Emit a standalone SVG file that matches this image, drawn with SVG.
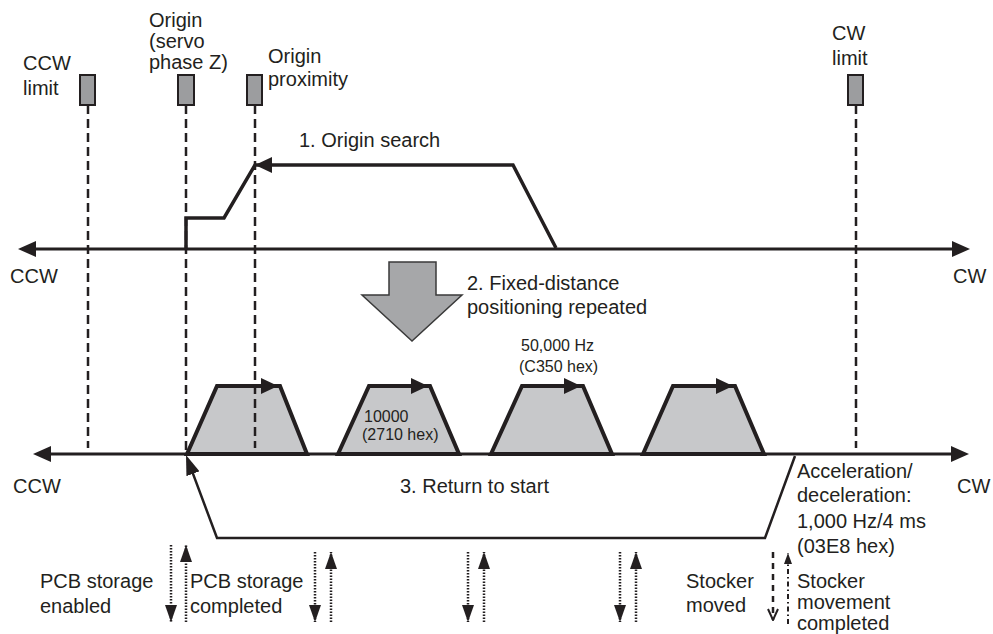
<svg xmlns="http://www.w3.org/2000/svg" width="993" height="634" viewBox="0 0 993 634">
<style>
text{font-family:"Liberation Sans",Arial,sans-serif;fill:#231f20}
.t20{font-size:20px}
.t16{font-size:16px}
.box{fill:#9c9d9f;stroke:#231f20;stroke-width:2}
.dash{stroke:#231f20;stroke-width:2.5;stroke-dasharray:9 5;fill:none}
.axis{stroke:#231f20;stroke-width:3;fill:none}
.trap{fill:#c7c8ca;stroke:#231f20;stroke-width:4;stroke-linejoin:miter}
.thick{stroke:#231f20;stroke-width:3.5;fill:none;stroke-linejoin:miter}
.ret{stroke:#231f20;stroke-width:2.5;fill:none}
.dot{stroke:#231f20;stroke-width:2.5;stroke-dasharray:1.5 1.5;fill:none}
.sdash{stroke:#231f20;stroke-width:2.5;stroke-dasharray:6 5;fill:none}
.sdd{stroke:#231f20;stroke-width:2;stroke-dasharray:5 3 1.5 3;fill:none}
</style>
<defs>
<marker id="axh" markerUnits="userSpaceOnUse" viewBox="0 0 18 16" refX="12" refY="8" markerWidth="18" markerHeight="16" orient="auto-start-reverse"><path d="M0,0 L18,8 L0,16 z" fill="#231f20"/></marker>
<marker id="th" markerUnits="userSpaceOnUse" viewBox="0 0 17 16" refX="7" refY="8" markerWidth="17" markerHeight="16" orient="auto"><path d="M0,0 L17,8 L0,16 z" fill="#231f20"/></marker>
<marker id="rh" markerUnits="userSpaceOnUse" viewBox="0 0 20 14" refX="10" refY="7" markerWidth="20" markerHeight="14" orient="auto"><path d="M0,0 L20,7 L0,14 z" fill="#231f20"/></marker>
<marker id="sa" markerUnits="userSpaceOnUse" viewBox="0 0 17 12" refX="17" refY="6" markerWidth="17" markerHeight="12" orient="auto"><path d="M0,0 L17,6 L0,12 z" fill="#231f20"/></marker>
<marker id="ch" markerUnits="userSpaceOnUse" viewBox="-1 -1 13 12" refX="11" refY="5" markerWidth="13" markerHeight="12" orient="auto"><path d="M0,0 L11,5 L0,10" fill="none" stroke="#231f20" stroke-width="2"/></marker>
<marker id="su" markerUnits="userSpaceOnUse" viewBox="0 0 11 8" refX="11" refY="4" markerWidth="11" markerHeight="8" orient="auto"><path d="M0,0 L11,4 L0,8 z" fill="#231f20"/></marker>
</defs>

<g id="ccw-limit">
<rect class="box" x="80" y="75" width="15" height="30"/>
<text class="t20" x="23" y="70">CCW</text>
<text class="t20" x="23" y="95">limit</text>
</g>
<g id="origin">
<rect class="box" x="178" y="75" width="16" height="30"/>
<text class="t20" x="149" y="27">Origin</text>
<text class="t20" x="149" y="48">(servo</text>
<text class="t20" x="149" y="69">phase Z)</text>
</g>
<g id="origin-proximity">
<rect class="box" x="247" y="75" width="15" height="30"/>
<text class="t20" x="268" y="63">Origin</text>
<text class="t20" x="268" y="86">proximity</text>
</g>
<g id="cw-limit">
<rect class="box" x="848" y="75" width="15" height="30"/>
<text class="t20" x="832" y="40">CW</text>
<text class="t20" x="832" y="65">limit</text>
</g>

<g id="top-axis">
<line class="axis" x1="24" y1="249" x2="964" y2="249" marker-start="url(#axh)" marker-end="url(#axh)"/>
<text class="t20" x="10" y="283">CCW</text>
<text class="t20" x="953" y="283">CW</text>
</g>

<g id="origin-search">
<path class="thick" d="M186,248 L186,218 L224,218 L255,165 L513,165 L556,248"/>
<path d="M255,165 L272,157 L272,173 z" fill="#231f20"/>
<text class="t20" x="299" y="147">1. Origin search</text>
</g>

<g id="fixed-distance">
<path d="M389,262 L436,262 L436,295 L462,295 L412,341 L362,295 L389,295 z" fill="#a6a7a9" stroke="#3a3a3a" stroke-width="1.5"/>
<text class="t20" x="467" y="290">2. Fixed-distance</text>
<text class="t20" x="467" y="314">positioning repeated</text>
<text class="t16" x="521" y="351">50,000 Hz</text>
<text class="t16" x="519" y="372">(C350 hex)</text>
</g>

<g id="trap1">
<polygon class="trap" points="187,454 217,386 280,386 307,454"/>
<line x1="217" y1="386" x2="268" y2="386" stroke="#231f20" stroke-width="4" marker-end="url(#th)"/>
</g>
<g id="trap2">
<polygon class="trap" points="338,454 369,386 430,386 459,454"/>
<line x1="369" y1="386" x2="418" y2="386" stroke="#231f20" stroke-width="4" marker-end="url(#th)"/>
<text class="t16" x="364" y="422">10000</text>
<text class="t16" x="362" y="440">(2710 hex)</text>
</g>
<g id="trap3">
<polygon class="trap" points="491,454 522,386 583,386 612,454"/>
<line x1="522" y1="386" x2="571" y2="386" stroke="#231f20" stroke-width="4" marker-end="url(#th)"/>
</g>
<g id="trap4">
<polygon class="trap" points="643,454 673,386 735,386 764,454"/>
<line x1="673" y1="386" x2="723" y2="386" stroke="#231f20" stroke-width="4" marker-end="url(#th)"/>
</g>

<g id="dashed-lines">
<line class="dash" x1="88" y1="105" x2="88" y2="448"/>
<line class="dash" x1="186" y1="105" x2="186" y2="454"/>
<line class="dash" x1="255" y1="105" x2="255" y2="448"/>
<line class="dash" x1="856" y1="105" x2="856" y2="448"/>
</g>

<g id="bottom-axis">
<line class="axis" x1="39" y1="454" x2="963" y2="454" marker-start="url(#axh)" marker-end="url(#axh)"/>
<text class="t20" x="13" y="493">CCW</text>
<text class="t20" x="957" y="493">CW</text>
</g>

<g id="return-to-start">
<path class="ret" d="M795,456 L765,538 L217,538 L189.5,464.4" marker-end="url(#rh)"/>
<text class="t20" x="400" y="493">3. Return to start</text>
</g>

<g id="accel-label">
<text class="t20" x="797" y="478">Acceleration/</text>
<text class="t20" x="797" y="502">deceleration:</text>
<text class="t20" x="797" y="528">1,000 Hz/4 ms</text>
<text class="t20" x="797" y="553">(03E8 hex)</text>
</g>

<g id="signals">
<line class="dot" x1="171" y1="545" x2="171" y2="622" marker-end="url(#sa)"/>
<line class="dot" x1="186" y1="622" x2="186" y2="545" marker-end="url(#sa)"/>
<line class="dot" x1="315" y1="552" x2="315" y2="622" marker-end="url(#sa)"/>
<line class="dot" x1="331" y1="622" x2="331" y2="552" marker-end="url(#sa)"/>
<line class="dot" x1="468" y1="552" x2="468" y2="622" marker-end="url(#sa)"/>
<line class="dot" x1="484" y1="622" x2="484" y2="552" marker-end="url(#sa)"/>
<line class="dot" x1="620" y1="552" x2="620" y2="622" marker-end="url(#sa)"/>
<line class="dot" x1="636" y1="622" x2="636" y2="552" marker-end="url(#sa)"/>
<line class="sdash" x1="773" y1="552" x2="773" y2="620" marker-end="url(#ch)"/>
<line class="sdd" x1="788" y1="624" x2="788" y2="553" marker-end="url(#su)"/>
</g>

<g id="pcb-labels">
<text class="t20" x="40" y="588">PCB storage</text>
<text class="t20" x="40" y="613">enabled</text>
<text class="t20" x="190" y="588">PCB storage</text>
<text class="t20" x="190" y="613">completed</text>
</g>
<g id="stocker-labels">
<text class="t20" x="686" y="588">Stocker</text>
<text class="t20" x="686" y="612">moved</text>
<text class="t20" x="797" y="588">Stocker</text>
<text class="t20" x="797" y="609">movement</text>
<text class="t20" x="797" y="630">completed</text>
</g>
</svg>
